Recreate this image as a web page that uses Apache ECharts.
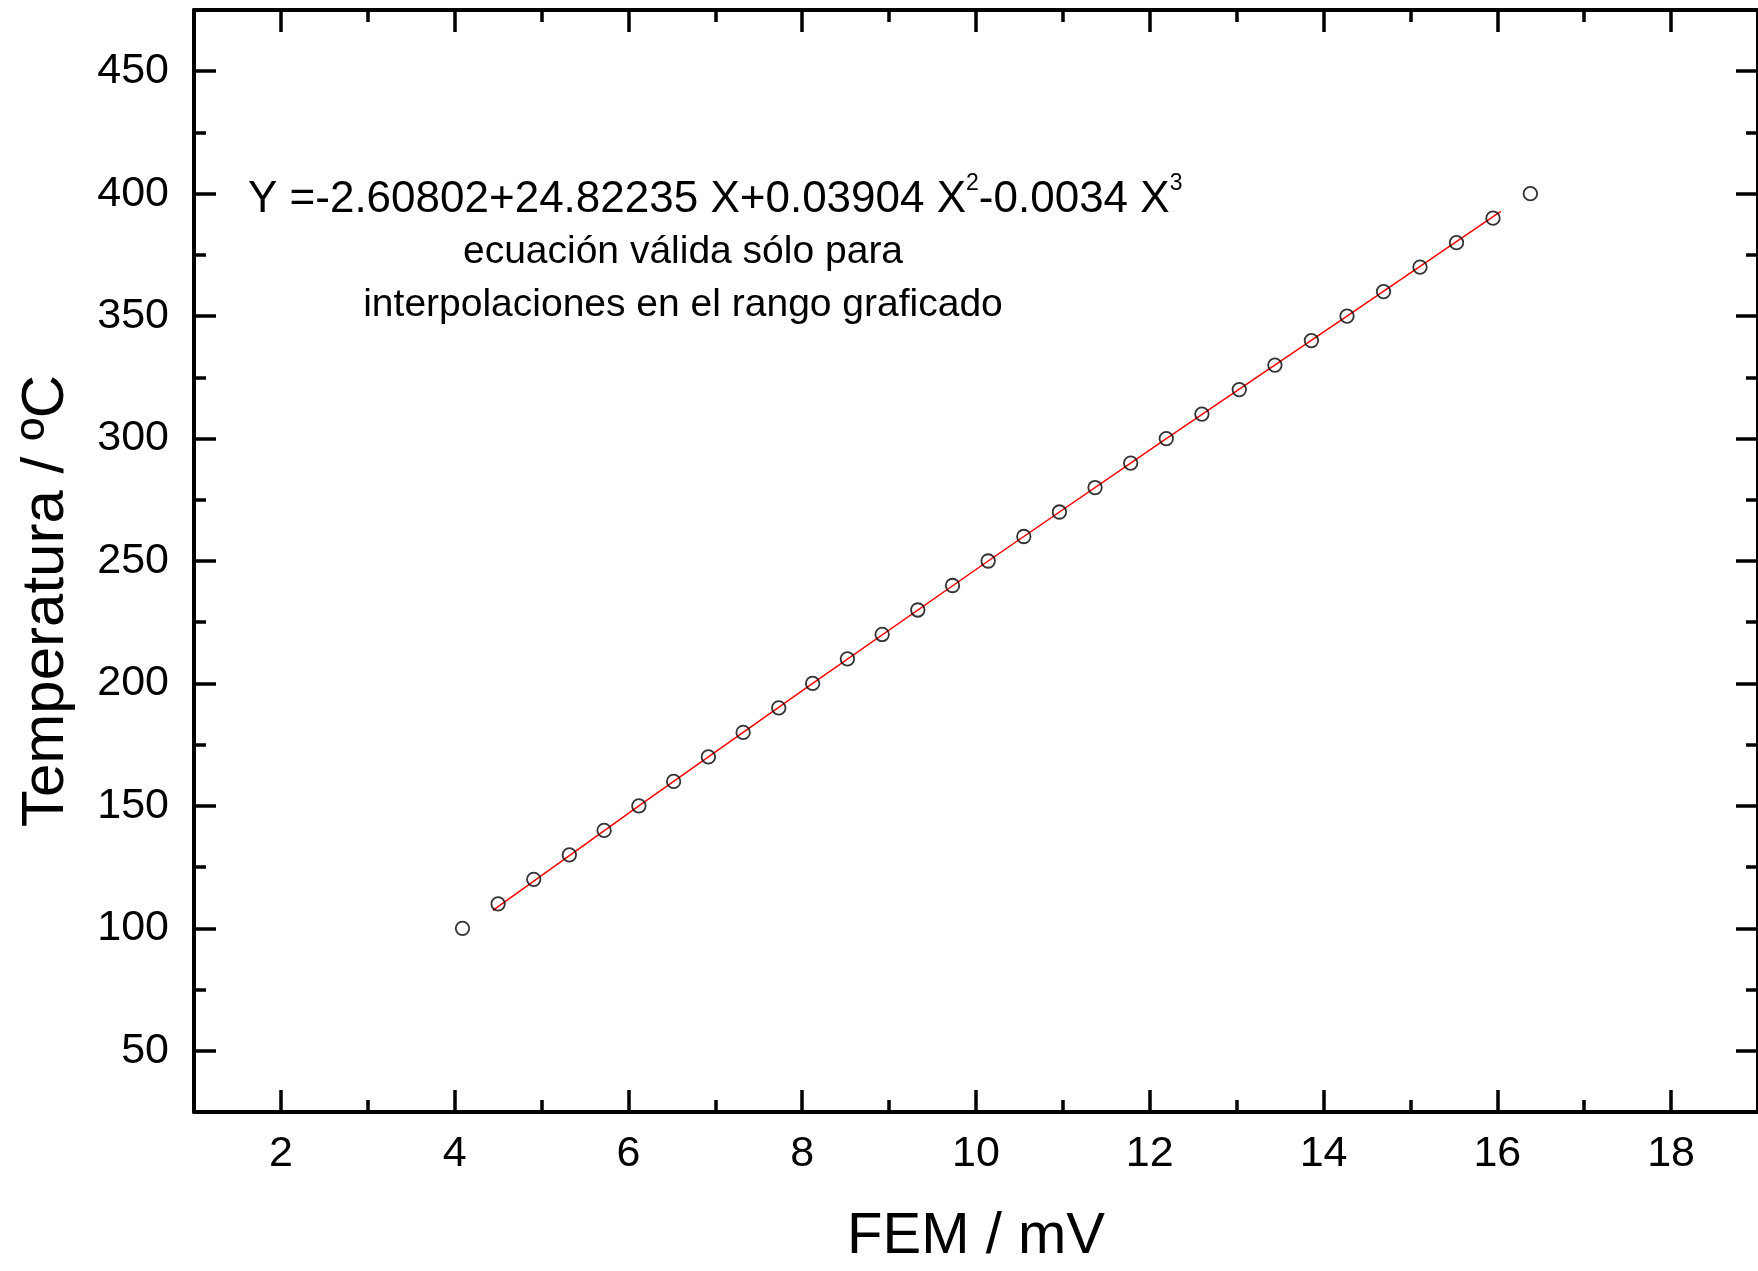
<!DOCTYPE html>
<html>
<head>
<meta charset="utf-8">
<script src="https://cdn.jsdelivr.net/npm/echarts@6/dist/echarts.min.js"></script>
<style>
html,body{margin:0;padding:0;background:#fff;}
#chart{width:1758px;height:1271px;}
</style>
</head>
<body>
<div id="chart"></div>
<script>
// ---- data ----
const femValues = [4.09, 4.50, 4.91, 5.32, 5.72, 6.12, 6.52, 6.92, 7.32, 7.73, 8.12, 8.52, 8.92, 9.33, 9.73, 10.14,
  10.55, 10.96, 11.37, 11.78, 12.19, 12.60, 13.03, 13.44, 13.86, 14.27, 14.69, 15.11, 15.53, 15.95, 16.38];
const tempValues = [100, 110, 120, 130, 140, 150, 160, 170, 180, 190, 200, 210, 220, 230, 240, 250,
  260, 270, 280, 290, 300, 310, 320, 330, 340, 350, 360, 370, 380, 390, 400];
// red fitted curve
const fitFem = [4.44, 6.12, 8.12, 10.14, 12.19, 14.27, 16.04];
const fitTemp = [107.3, 150, 200, 250, 300, 350, 392.8];
// tick labels
const xMajorTicks = [2, 4, 6, 8, 10, 12, 14, 16, 18];
const yMajorTicks = [50, 100, 150, 200, 250, 300, 350, 400, 450];
const xRange = [1, 19];
const yRange = [25, 475];
const xTitle = 'FEM / mV';
const yTitle = 'Temperatura / ºC';
const eqMain1 = 'Y =-2.60802+24.82235 X+0.03904 X';
const eqSup1 = '2';
const eqMain2 = '-0.0034 X';
const eqSup2 = '3';
const note1 = 'ecuación válida sólo para';
const note2 = 'interpolaciones en el rango graficado';

const FONT = "'Liberation Sans', Arial, Helvetica, sans-serif";
const chart = echarts.init(document.getElementById('chart'));

function majorAxis(pos, range, ticks, withLabel, extra, margin) {
  return Object.assign({
    type: 'value', position: pos, min: range[0], max: range[1],
    axisLine: { show: true, onZero: false, lineStyle: { color: '#000', width: 4 } },
    axisTick: { show: true, inside: true, length: 22, customValues: ticks, lineStyle: { color: '#000', width: 3.5 } },
    axisLabel: withLabel ? { show: true, customValues: ticks, fontSize: 43, color: '#000', fontFamily: FONT, margin: margin } : { show: false },
    splitLine: { show: false }
  }, extra || {});
}
function minorAxis(pos, range, step) {
  return {
    type: 'value', position: pos, min: range[0], max: range[1], interval: step,
    axisLine: { show: false, onZero: false },
    axisTick: { show: true, inside: true, length: 12, lineStyle: { color: '#000', width: 3.5 } },
    axisLabel: { show: false },
    splitLine: { show: false }
  };
}

const option = {
  backgroundColor: '#ffffff',
  animation: false,
  grid: { left: 194, top: 10, right: -6, bottom: 152, containLabel: false },
  xAxis: [
    majorAxis('bottom', xRange, xMajorTicks, true, {
      name: xTitle, nameLocation: 'middle', nameGap: 96,
      nameTextStyle: { fontSize: 58, color: '#000', fontFamily: FONT }
    }, 21),
    minorAxis('bottom', xRange, 1),
    majorAxis('top', xRange, xMajorTicks, false),
    minorAxis('top', xRange, 1)
  ],
  yAxis: [
    majorAxis('left', yRange, yMajorTicks, true, {
      name: yTitle, nameLocation: 'middle', nameGap: 118, nameRotate: 90,
      nameTextStyle: { fontSize: 60, color: '#000', fontFamily: FONT, padding: [0, 80, 0, 0] }
    }, 25),
    minorAxis('left', yRange, 25),
    majorAxis('right', yRange, yMajorTicks, false),
    minorAxis('right', yRange, 25)
  ],
  graphic: [
    {
      type: 'text', x: 248, y: 200,
      style: {
        text: '{m|' + eqMain1 + '}{s|' + eqSup1 + '}{m|' + eqMain2 + '}{s|' + eqSup2 + '}',
        verticalAlign: 'middle', align: 'left',
        rich: {
          m: { fontSize: 44, lineHeight: 55, fontFamily: FONT, fill: '#000' },
          s: { fontSize: 23, lineHeight: 23, fontFamily: FONT, fill: '#000', verticalAlign: 'top' }
        }
      }
    },
    {
      type: 'text', x: 683, y: 252,
      style: { text: note1, fontSize: 39, fontFamily: FONT, fill: '#000', align: 'center', verticalAlign: 'middle' }
    },
    {
      type: 'text', x: 683, y: 305,
      style: { text: note2, fontSize: 39, fontFamily: FONT, fill: '#000', align: 'center', verticalAlign: 'middle' }
    }
  ],
  series: [
    {
      type: 'line', xAxisIndex: 0, yAxisIndex: 0,
      data: fitFem.map((x, i) => [x, fitTemp[i]]),
      showSymbol: false, symbol: 'none',
      lineStyle: { color: '#ff0000', width: 1.5 }, z: 2
    },
    {
      type: 'scatter', xAxisIndex: 0, yAxisIndex: 0,
      data: femValues.map((x, i) => [x, tempValues[i]]),
      symbol: 'circle', symbolSize: 13.5,
      itemStyle: { color: 'rgba(0,0,0,0)', borderColor: '#000', borderWidth: 1.8 }, z: 3
    }
  ]
};
chart.setOption(option);
</script>
</body>
</html>
